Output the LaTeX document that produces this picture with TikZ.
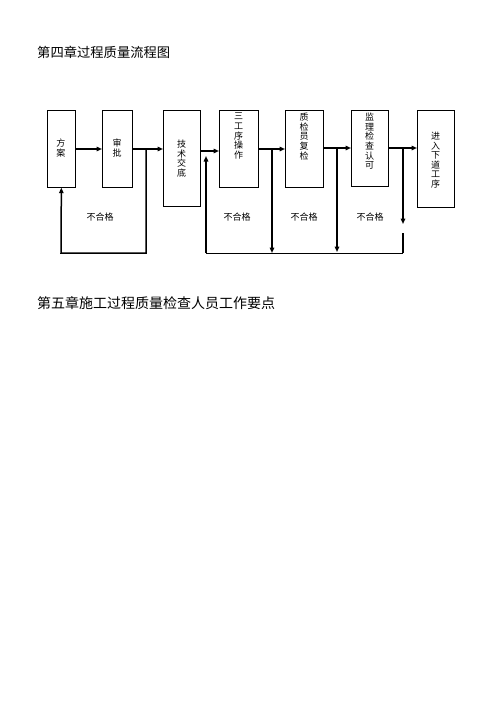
\documentclass[tikz,border=0pt]{standalone}
\usepackage{fontspec}
\newfontfamily\cjk{Noto Sans CJK SC}
\usetikzlibrary{arrows.meta}
\begin{document}
\begin{tikzpicture}[x=1pt,y=-1pt,
  box/.style={draw, line width=0.7pt, anchor=north west, inner sep=0pt, minimum width=#1},
  vt/.style={anchor=north, inner sep=0pt, text width=10pt, align=center, font=\cjk\fontsize{9}{9.6}\selectfont},
  lbl/.style={inner sep=0pt, font=\cjk\fontsize{9}{10}\selectfont},
  ttl/.style={anchor=west, inner sep=0pt, font=\cjk\fontsize{#1}{#1}\selectfont},
  conn/.style={line width=1.5pt, -{Triangle[length=5.5pt,width=4.5pt]}},
  line/.style={line width=1.5pt},
  thin/.style={line width=0.8pt}]
\useasboundingbox (0,0) rectangle (500,707);
\node[ttl=13.3] (t1) at (37,52.5) {第四章过程质量流程图};
\node[ttl=14] (t2) at (37,303) {第五章施工过程质量检查人员工作要点};
% boxes
\node[box=28pt, minimum height=77pt] (fa) at (47,110) {};
\node[box=30pt, minimum height=77pt] (sp) at (102,110) {};
\node[box=37pt, minimum height=96pt] (js) at (163,110) {};
\node[box=39pt, minimum height=77pt] (sg) at (219,110) {};
\node[box=38pt, minimum height=77pt] (zj) at (285,110) {};
\node[box=37pt, minimum height=76pt] (jl) at (351,110) {};
\node[box=37pt, minimum height=97pt] (jr) at (417,110) {};
% box texts
\node[vt] (tfa) at (61,139) {方\\案};
\node[vt] (tsp) at (117,139) {审\\批};
\node[vt] (tjs) at (181.5,140) {技\\术\\交\\底};
\node[vt] (tsg) at (238.5,113) {三\\工\\序\\操\\作};
\node[vt] (tzj) at (304,113) {质\\检\\员\\复\\检};
\node[vt] (tjl) at (369.5,113) {监\\理\\检\\查\\认\\可};
\node[vt] (tjr) at (435.5,132) {进\\入\\下\\道\\工\\序};
% labels
\node[lbl] (l1) at (100,217) {不合格};
\node[lbl] (l2) at (237,217) {不合格};
\node[lbl] (l3) at (304,217) {不合格};
\node[lbl] (l4) at (370,217) {不合格};
% junction coordinates
\coordinate (j1) at (146,149);
\coordinate (j1b) at (146,253);
\coordinate (j1c) at (61,253);
\coordinate (j2) at (206,151);
\coordinate (j2a) at (206,156);
\coordinate (j2b) at (206,253);
\coordinate (j3) at (272,149);
\coordinate (j3b) at (272,253);
\coordinate (j4) at (337,148);
\coordinate (j4b) at (337,252);
\coordinate (j5) at (403,148);
\coordinate (j5b) at (403,224);
\coordinate (j5c) at (403,233);
\coordinate (j5d) at (403,253);
% main flow
\draw[conn] (fa.east |- 0,149) -- (sp.west |- 0,149);
\draw[conn] (sp.east |- 0,149) -- (js.west |- 0,149);
\draw[conn] (js.east |- 0,151) -- (sg.west |- 0,151);
\draw[conn] (sg.east |- 0,149) -- (zj.west |- 0,149);
\draw[conn] (zj.east |- 0,148) -- (jl.west |- 0,148);
\draw[conn] (jl.east |- 0,148) -- (jr.west |- 0,148);
% feedback
\draw[conn] (j1) -- (j1b) -- (j1c) -- (fa.south);
\draw[conn] (j3) -- (j3b);
\draw[conn] (j4) -- (j4b);
\draw[conn] (j5) -- (j5b);
\draw[line] (j5c) -- (j5d);
\draw[thin] (j5d) -- (j2b);
\draw[conn] (j2b) -- (j2a);
\end{tikzpicture}
\end{document}
